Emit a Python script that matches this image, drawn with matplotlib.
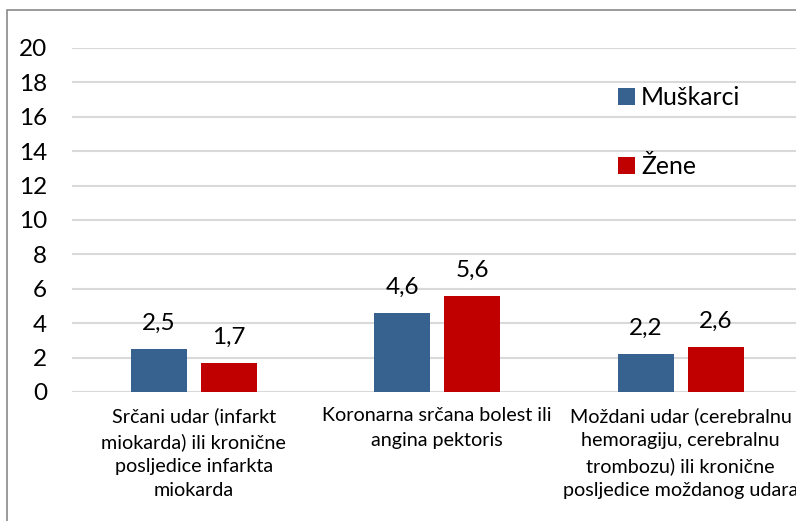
import matplotlib
matplotlib.use("Agg")
import matplotlib.pyplot as plt
from matplotlib.patches import Rectangle
import numpy as np

plt.rcParams['font.family'] = ['Lato', 'DejaVu Sans']

categories = [
    "Srčani udar (infarkt\nmiokarda) ili kronične\nposljedice infarkta\nmiokarda",
    "Koronarna srčana bolest ili\nangina pektoris",
    "Moždani udar (cerebralnu\nhemoragiju, cerebralnu\ntrombozu) ili kronične\nposljedice moždanog udara",
]
muskarci = [2.5, 4.6, 2.2]
zene = [1.7, 5.6, 2.6]
series_names = ["Muškarci", "Žene"]
yticks = list(range(0, 21, 2))

blue = "#37618F"
red = "#C00000"

W, H = 796, 521
fig = plt.figure(figsize=(W / 100, H / 100), dpi=100)
ax = fig.add_axes([72 / W, 129 / H, (802.5 - 72) / W, 344 / H])

x = np.arange(len(categories))
bw = 0.23
off = 0.143
b1 = ax.bar(x - off, muskarci, bw, color=blue, label=series_names[0], zorder=3)
b2 = ax.bar(x + off, zene, bw, color=red, label=series_names[1], zorder=3)

for bars, vals in ((b1, muskarci), (b2, zene)):
    for rect, v in zip(bars, vals):
        ax.annotate(f"{v:.1f}".replace(".", ","),
                    (rect.get_x() + rect.get_width() / 2, v),
                    xytext=(0, 11), textcoords="offset points",
                    ha="center", va="bottom", fontsize=17.5)

ax.set_xlim(-0.5, 2.5)
ax.set_ylim(0, 20)
ax.set_yticks(yticks)
ax.set_yticklabels([str(t) for t in yticks], fontsize=17.5)
ax.set_xticks(x)
ax.set_xticklabels(categories, fontsize=14.2, linespacing=1.52)
ax.tick_params(axis="y", length=0, pad=18)
ax.tick_params(axis="x", length=0, pad=11)
ax.grid(axis="y", color="#D9D9D9", lw=1.5, zorder=0)
for s in ax.spines.values():
    s.set_visible(False)

leg = ax.legend(loc="upper left", bbox_to_anchor=(618 / W, 1 - 86 / H),
                bbox_transform=fig.transFigure, frameon=False, fontsize=17.8,
                handlelength=0.68, handleheight=0.68, handletextpad=0.25,
                labelspacing=1.88, borderpad=0, borderaxespad=0)

fig.patches.append(Rectangle((7.5 / W, -0.1), 1.2, 1.1 - 9.5 / H,
                             transform=fig.transFigure, fill=False,
                             edgecolor="#8A8A8A", lw=1.2))

fig.savefig("out.png", dpi=100)
